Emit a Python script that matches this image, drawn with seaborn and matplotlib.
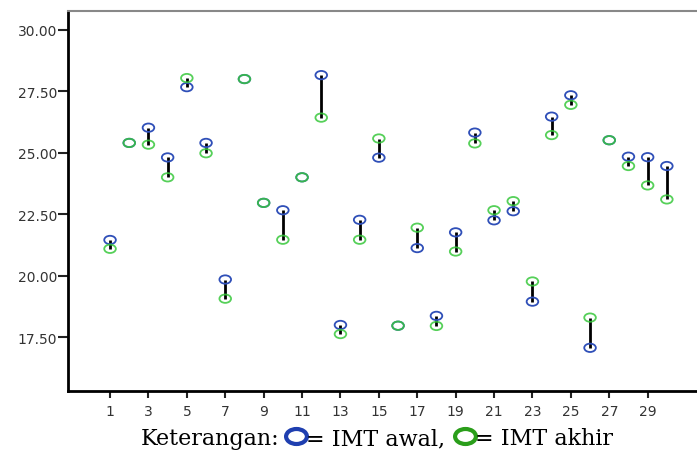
import numpy as np
import pandas as pd
import matplotlib
matplotlib.use("Agg")
import matplotlib.pyplot as plt
import seaborn as sns
from matplotlib.path import Path
from matplotlib.transforms import Affine2D
from matplotlib.lines import Line2D

# -------------------------------
# DATA
# -------------------------------
subjects = list(range(1, 31))
imt_awal = [21.45, 25.40, 26.02, 24.81, 27.67, 25.40, 19.84, 28.00, 22.96, 22.66,
            24.00, 28.16, 17.99, 22.27, 24.80, 17.96, 21.12, 18.36, 21.76, 25.82,
            22.25, 22.62, 18.94, 26.47, 27.34, 17.06, 25.51, 24.84, 24.82, 24.46]
imt_akhir = [21.09, 25.40, 25.33, 24.00, 28.04, 24.98, 19.06, 28.00, 22.96, 21.46,
             24.00, 26.43, 17.62, 21.46, 25.58, 17.96, 21.95, 17.95, 20.98, 25.38,
             22.66, 23.03, 19.76, 25.72, 26.95, 18.29, 25.51, 24.46, 23.67, 23.10]
x_ticks = list(range(1, 30, 2))
y_ticks = [17.5, 20.0, 22.5, 25.0, 27.5, 30.0]

df = pd.DataFrame({"subjek": subjects, "awal": imt_awal, "akhir": imt_akhir})

BLUE = "#2f4fb8"
GREEN = "#38c83c"

# -------------------------------
# PLOT
# -------------------------------
sns.set_style("white")
plt.rcParams["font.family"] = ["DejaVu Sans"]

fig = plt.figure(figsize=(6.97, 4.52), dpi=100)
ax = fig.add_axes([68 / 697, 1 - 392.3 / 452, 1 - 68 / 697, (392.3 - 12) / 452])

# ellipse marker, a bit wider than tall
ellipse = Path.unit_circle().transformed(Affine2D().scale(1.0, 0.72))

ax.vlines(df["subjek"], df["awal"], df["akhir"], color="black", linewidth=2.0, zorder=2)
sns.scatterplot(data=df, x="subjek", y="awal", marker=ellipse, s=70,
                facecolors="none", edgecolor=BLUE, linewidth=1.3, ax=ax, zorder=3)
sns.scatterplot(data=df, x="subjek", y="akhir", marker=ellipse, s=70,
                facecolors="none", edgecolor=GREEN, linewidth=1.3, alpha=0.85,
                ax=ax, zorder=4)

ax.set_xlim(-1.19, 31.57)
ax.set_ylim(15.29, 30.77)
ax.set_xticks(x_ticks)
ax.set_yticks(y_ticks)
ax.set_yticklabels([f"{v:.2f}" for v in y_ticks])
ax.set_xlabel("")
ax.set_ylabel("")
ax.tick_params(axis="both", direction="out", width=1.5, color="#222222",
               labelsize=10, labelcolor="#333333", left=True, bottom=True)
ax.tick_params(axis="y", length=7, pad=1)
ax.tick_params(axis="x", length=5, pad=4)

for side in ["left", "bottom"]:
    ax.spines[side].set_color("black")
    ax.spines[side].set_linewidth(2.0)
ax.spines["top"].set_color("#888888")
ax.spines["top"].set_linewidth(1.5)
ax.spines["right"].set_visible(False)

# caption with coloured ring symbols
cap_font = dict(fontsize=16, family=["DejaVu Serif"], color="black", va="baseline")
base_y = 7 / 452
ring_y = 15 / 452
ring_w = 20  # px

renderer = fig.canvas.get_renderer()
t1 = fig.text(141 / 697, base_y, "Keterangan:", **cap_font)
x_px = t1.get_window_extent(renderer).x1 + 6
fig.add_artist(Line2D([(x_px + ring_w / 2) / 697], [ring_y], marker=ellipse,
                      markersize=ring_w - 5, markerfacecolor="none",
                      markeredgecolor="#1f3fb0", markeredgewidth=3.0, linestyle=""))
t2 = fig.text((x_px + ring_w) / 697, base_y, "= IMT awal,", **cap_font)
x_px = t2.get_window_extent(renderer).x1 + 10
fig.add_artist(Line2D([(x_px + ring_w / 2) / 697], [ring_y], marker=ellipse,
                      markersize=ring_w - 5, markerfacecolor="none",
                      markeredgecolor="#2a9e1a", markeredgewidth=3.0, linestyle=""))
t3 = fig.text((x_px + ring_w) / 697, base_y, "= IMT akhir", **cap_font)

fig.savefig("out.png", dpi=100)
